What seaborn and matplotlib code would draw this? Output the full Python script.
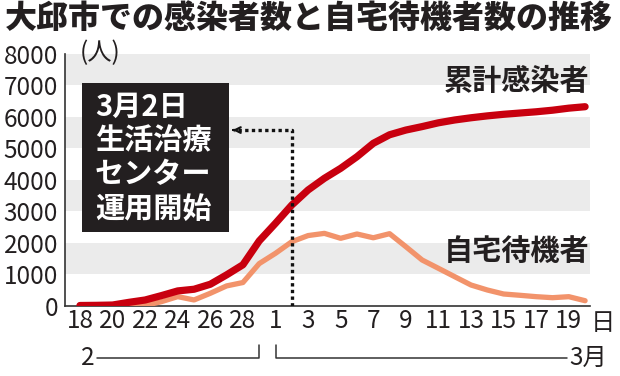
import matplotlib
matplotlib.use("Agg")
import matplotlib.pyplot as plt
import pandas as pd
import seaborn as sns

# days from Feb 18 to Mar 20 (2020, leap year)
days = list(range(32))
tick_labels = ["18", "", "20", "", "22", "", "24", "", "26", "", "28", "",
               "1", "", "3", "", "5", "", "7", "", "9", "", "11", "", "13", "",
               "15", "", "17", "", "19", ""]

cumulative = [0, 5, 15, 100, 175, 314, 463, 516, 675, 973, 1293, 2050,
              2610, 3190, 3667, 4038, 4355, 4724, 5148, 5420, 5570, 5680,
              5800, 5890, 5960, 6020, 6070, 6110, 6150, 6200, 6265, 6311]
home_wait = [0, 0, 0, 0, 0, 122, 282, 176, 388, 622, 729, 1330,
             1657, 2025, 2220, 2290, 2133, 2270, 2150, 2280, 1867, 1444,
             1180, 914, 650, 492, 365, 324, 280, 248, 280, 152]

series_colors = {"累計感染者": "#c8000f", "自宅待機者": "#f2936b"}
event_day = 13          # Mar 2
event_level = 5570
event_text = ["3月2日", "生活治療", "センター", "運用開始"]

df = pd.concat([
    pd.DataFrame({"day": days, "value": home_wait, "series": "自宅待機者"}),
    pd.DataFrame({"day": days, "value": cumulative, "series": "累計感染者"}),
])

sns.set_style("white")
plt.rcParams['font.family'] = ['Noto Sans CJK JP', 'DejaVu Sans']

fig = plt.figure(figsize=(6.2, 3.76), dpi=100)
ax = fig.add_axes([0.1048, 0.1875, 0.8468, 0.6702])

for lo in (1000, 3000, 5000, 7000):
    ax.axhspan(lo, lo + 1000, color="#ebebeb", lw=0, zorder=0)

sns.lineplot(data=df[df.series == "自宅待機者"], x="day", y="value",
             color=series_colors["自宅待機者"], lw=3.8, ax=ax, zorder=3,
             solid_capstyle="round", solid_joinstyle="round")
sns.lineplot(data=df[df.series == "累計感染者"], x="day", y="value",
             color=series_colors["累計感染者"], lw=5.2, ax=ax, zorder=4,
             solid_capstyle="round", solid_joinstyle="round")

ax.set_xlim(-0.92, 31.3)
ax.set_ylim(0, 8000)
ax.set_xlabel("")
ax.set_ylabel("")
ax.set_xticks(days)
ax.set_xticklabels(tick_labels)
ax.set_yticks(range(0, 8001, 1000))
ax.set_yticklabels([str(v) for v in range(0, 8001, 1000)])
ax.tick_params(axis="x", direction="in", length=3.8, width=1.0, color="#333333",
               labelsize=17.5, pad=2, labelcolor="#231f20")
ax.tick_params(axis="y", direction="in", length=8.6, width=1.0, color="#333333",
               labelsize=17.5, pad=5, labelcolor="#231f20")
sns.despine(ax=ax)
for s in ("left", "bottom"):
    ax.spines[s].set_color("#333333")
    ax.spines[s].set_linewidth(1.2)

# title and unit
fig.text(0.008, 0.952, "大邱市での感染者数と自宅待機者数の推移", fontsize=23,
         fontweight="heavy", ha="left", va="center", color="#231f20")
ax.text(0.029, 1.0, "(人)", transform=ax.transAxes, fontsize=17.5,
        ha="left", va="center", color="#231f20")

# series labels
ax.text(26.8, 7130, "累計感染者", fontsize=21, fontweight="bold",
        ha="center", va="center", color="#231f20", zorder=5)
ax.text(26.8, 1730, "自宅待機者", fontsize=21, fontweight="bold",
        ha="center", va="center", color="#231f20", zorder=5)

# annotation box
ax.add_patch(plt.Rectangle((0.032, 0.292), 0.280, 0.591, transform=ax.transAxes,
                           facecolor="#231f20", edgecolor="none", zorder=6))
for i, line in enumerate(event_text):
    ax.text(0.057, 0.79 - i * 0.135, line, transform=ax.transAxes, fontsize=21,
            fontweight="bold", color="white", ha="left", va="center", zorder=7)

# dotted pointer from Mar 2 to the box
ax.plot([event_day, event_day, 9.45], [0, event_level, event_level], color="#111111",
        lw=2.4, ls=(0, (1, 1)), zorder=5, solid_capstyle="butt")
ax.annotate("", xy=(9.2, event_level), xytext=(9.6, event_level),
            arrowprops=dict(arrowstyle="->", color="#111111", lw=1.6,
                            mutation_scale=10), zorder=5)

# month brackets under the axis
xt = ax.get_xaxis_transform()
ax.plot([1.05, 11, 11], [-0.208, -0.208, -0.155], transform=xt, clip_on=False,
        color="#333333", lw=1.1)
ax.plot([12, 12, 29.9], [-0.155, -0.208, -0.208], transform=xt, clip_on=False,
        color="#333333", lw=1.1)
ax.text(0.45, -0.208, "2", transform=xt, fontsize=17.5, ha="center", va="center",
        color="#231f20")
ax.text(30.05, -0.208, "3月", transform=xt, fontsize=17.5, ha="left", va="center",
        color="#231f20")
ax.text(31.35, -0.071, "日", transform=xt, fontsize=17.5, ha="left", va="center",
        color="#231f20")

fig.savefig("out.png", dpi=100)
